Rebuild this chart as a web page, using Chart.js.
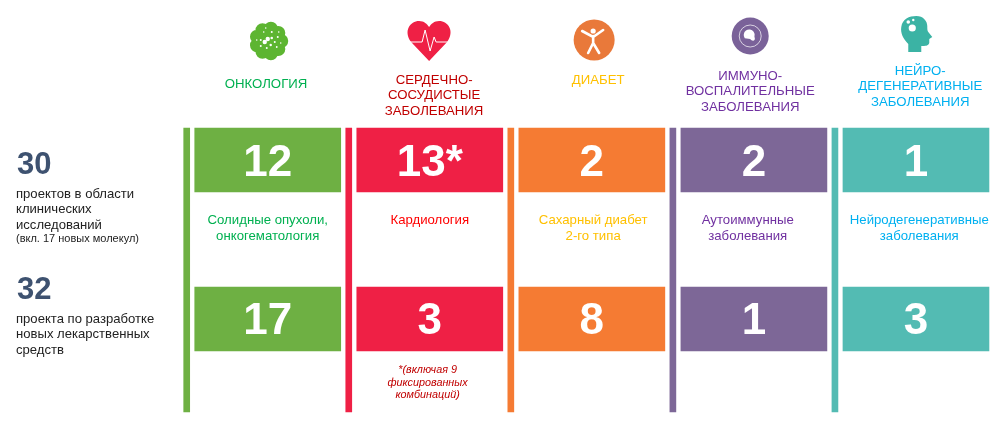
<!DOCTYPE html>
<html>
<head>
	<meta charset="utf-8">
	<script src="https://cdn.jsdelivr.net/npm/chart.js@4"></script>
	<style>
		html, body { margin: 0; padding: 0; background: #fff; }
		#wrap { width: 1000px; height: 426px; }
	</style>
</head>
<body>
	<div id="wrap"><canvas id="myChart" width="1000" height="426"></canvas></div>
</body>
<script>

// data
const categories = [
  ['ОНКОЛОГИЯ'],
  ['СЕРДЕЧНО-', 'СОСУДИСТЫЕ', 'ЗАБОЛЕВАНИЯ'],
  ['ДИАБЕТ'],
  ['ИММУНО-', 'ВОСПАЛИТЕЛЬНЫЕ', 'ЗАБОЛЕВАНИЯ'],
  ['НЕЙРО-', 'ДЕГЕНЕРАТИВНЫЕ', 'ЗАБОЛЕВАНИЯ']
];
const clinicalProjects = [12, 13, 2, 2, 1];
const discoveryProjects = [17, 3, 8, 1, 3];
const clinicalLabels = ['12', '13*', '2', '2', '1'];
const captions = [
  ['Солидные опухоли,', 'онкогематология'],
  ['Кардиология'],
  ['Сахарный диабет', '2-го типа'],
  ['Аутоиммунные', 'заболевания'],
  ['Нейродегенеративные', 'заболевания']
];
const footnote = ['*(включая 9', 'фиксированных', 'комбинаций)'];

// colours
const barColors = ['#6EB043', '#EF2045', '#F57B33', '#7D6797', '#53BBB3'];
const headColors = ['#00B050', '#C00000', '#FFC000', '#7030A0', '#00B0F0'];
const capColors = ['#00B050', '#FF0000', '#FFC000', '#7030A0', '#00B0F0'];

// the bars are all the same height, the count is only written on them
const railBand = [0, 284];
const topBand = [0, 64];
const bottomBand = [159, 223];

const columns = categories.map((c, i) => i);

const config = {
  type: 'bar',
  data: {
    datasets: [
      {
        label: 'rail',
        data: columns.map(i => ({ x: i - 0.5, y: railBand })),
        backgroundColor: barColors,
        barThickness: 6,
        grouped: false,
        clip: false
      },
      {
        label: 'Клинические исследования',
        data: columns.map(i => ({ x: i, y: topBand })),
        backgroundColor: barColors,
        barThickness: 146,
        grouped: false,
        clip: false
      },
      {
        label: 'Разработка лекарственных средств',
        data: columns.map(i => ({ x: i, y: bottomBand })),
        backgroundColor: barColors,
        barThickness: 146,
        grouped: false,
        clip: false
      }
    ]
  },
  options: {
    responsive: false,
    animation: false,
    layout: { padding: { left: 170.5, right: 3, top: 128, bottom: 14 } },
    plugins: { legend: { display: false }, tooltip: { enabled: false } },
    scales: {
      x: { type: 'linear', min: -0.6, max: 4.5, offset: false, display: false },
      y: { type: 'linear', min: 0, max: 284, reverse: true, display: false, stacked: false }
    }
  },
  plugins: [{
    id: 'infographic',
    afterDatasetsDraw(chart) {
      const c = chart.ctx;
      const xs = chart.scales.x;
      const ys = chart.scales.y;
      const arial = '"Liberation Sans", Arial, sans-serif';
      c.save();
      c.textBaseline = 'middle';

      // numbers on the cards
      c.textAlign = 'center';
      c.fillStyle = '#fff';
      c.font = 'bold 44px ' + arial;
      columns.forEach(i => {
        const x = xs.getPixelForValue(i);
        c.fillText(clinicalLabels[i], x, ys.getPixelForValue((topBand[0] + topBand[1]) / 2) + 3.5);
        c.fillText(String(discoveryProjects[i]), x, ys.getPixelForValue((bottomBand[0] + bottomBand[1]) / 2) + 2.5);
      });

      // column headers
      const headShift = [-1.7, 4.3, 6.3, -3.7, 4.3];
      const headY = [84, 80, 80, 76, 71];
      c.font = '13.2px ' + arial;
      categories.forEach((lines, i) => {
        c.fillStyle = headColors[i];
        lines.forEach((t, n) => c.fillText(t, xs.getPixelForValue(i) + headShift[i], headY[i] + n * 15.7));
      });

      // captions between the rows
      const capShift = [0, 0, 1.3, -6.2, 3.3];
      c.font = '13.2px ' + arial;
      captions.forEach((lines, i) => {
        c.fillStyle = capColors[i];
        lines.forEach((t, n) => c.fillText(t, xs.getPixelForValue(i) + capShift[i], 220 + n * 16));
      });

      // footnote
      c.fillStyle = '#C00000';
      c.font = 'italic 10.8px ' + arial;
      footnote.forEach((t, n) => c.fillText(t, xs.getPixelForValue(1) - 2.2, 370 + n * 12.5));

      // left side
      c.textAlign = 'left';
      c.fillStyle = '#3E5270';
      c.font = 'bold 31px ' + arial;
      c.fillText('30', 17, 165);
      c.fillText('32', 17, 290);
      c.fillStyle = '#222';
      c.font = '13.1px ' + arial;
      ['проектов в области', 'клинических', 'исследований'].forEach((t, n) => c.fillText(t, 16, 194 + n * 15.7));
      ['проекта по разработке', 'новых лекарственных', 'средств'].forEach((t, n) => c.fillText(t, 16, 319 + n * 15.5));
      c.font = '11px ' + arial;
      c.fillText('(вкл. 17 новых молекул)', 16, 239);

      drawFlower(c, xs.getPixelForValue(0) + 1, 41);
      drawHeart(c, xs.getPixelForValue(1) - 0.7, 21);
      drawFigure(c, xs.getPixelForValue(2) + 2.3, 40);
      drawImmune(c, xs.getPixelForValue(3) - 3.7, 36);
      drawHead(c, xs.getPixelForValue(4) + 1.3, 34);
      c.restore();
    }
  }]
};

function drawFlower(c, x, y) {
  c.fillStyle = '#5DB531';
  c.beginPath();
  for (let a = 0; a < 9; a++) {
    const r = a * Math.PI * 2 / 9;
    c.moveTo(x + Math.cos(r) * 12.5, y + Math.sin(r) * 12.5);
    c.arc(x + Math.cos(r) * 12.5, y + Math.sin(r) * 12.5, 7, 0, Math.PI * 2);
  }
  c.arc(x, y, 14, 0, Math.PI * 2);
  c.fill();
  c.fillStyle = '#fff';
  [[-1, -2, 2.2], [-4, 1, 2.2], [3, -3, 1.3], [2, 4, 1.2], [-8, -1, 1], [-12, -1, .8], [-8, 5, 1], [-2, 7, 1],
   [6, 1, 1], [9, -4, 1], [12, 2, .8], [8, 6, .9], [3, -9, 1], [-5, -9, .8], [-3, -13, .8], [10, -9, .8]].forEach(d => {
    c.beginPath();
    c.arc(x + d[0], y + d[1], d[2], 0, Math.PI * 2);
    c.fill();
  });
}

function drawHeart(c, x, y) {
  c.fillStyle = '#EF2045';
  c.beginPath();
  c.moveTo(x, y + 40);
  c.lineTo(x - 18, y + 21);
  c.bezierCurveTo(x - 26, y + 10, x - 19, y, x - 10, y);
  c.bezierCurveTo(x - 5, y, x - 2, y + 3, x, y + 6);
  c.bezierCurveTo(x + 2, y + 3, x + 5, y, x + 10, y);
  c.bezierCurveTo(x + 19, y, x + 26, y + 10, x + 18, y + 21);
  c.closePath();
  c.fill();
  c.strokeStyle = '#fff';
  c.lineWidth = 1;
  c.beginPath();
  c.moveTo(x - 21, y + 21);
  c.lineTo(x - 7, y + 21);
  c.lineTo(x - 4, y + 9);
  c.lineTo(x + 1, y + 30);
  c.lineTo(x + 5, y + 16);
  c.lineTo(x + 7, y + 21);
  c.lineTo(x + 21, y + 21);
  c.stroke();
}

function drawFigure(c, x, y) {
  c.fillStyle = '#E9793A';
  c.beginPath();
  c.arc(x, y, 20.5, 0, Math.PI * 2);
  c.fill();
  c.strokeStyle = '#fff';
  c.fillStyle = '#fff';
  c.lineWidth = 2.6;
  c.lineCap = 'round';
  c.beginPath();
  c.arc(x - 1, y - 9, 2.6, 0, Math.PI * 2);
  c.fill();
  c.beginPath();
  c.moveTo(x - 12, y - 9);
  c.lineTo(x - 1, y - 3);
  c.lineTo(x + 9, y - 10);
  c.moveTo(x - 1, y - 4);
  c.lineTo(x - 1, y + 3);
  c.lineTo(x - 6, y + 13);
  c.moveTo(x - 1, y + 3);
  c.lineTo(x + 5, y + 13);
  c.stroke();
  c.lineCap = 'butt';
}

function drawImmune(c, x, y) {
  c.fillStyle = '#7A6299';
  c.beginPath();
  c.arc(x, y, 18.5, 0, Math.PI * 2);
  c.fill();
  c.strokeStyle = 'rgba(255,255,255,.7)';
  c.lineWidth = 1;
  c.beginPath();
  c.arc(x, y, 11, 0, Math.PI * 2);
  c.stroke();
  c.fillStyle = '#fff';
  c.beginPath();
  c.arc(x - 1, y - 1, 5.5, Math.PI * 0.8, Math.PI * 2.1);
  c.bezierCurveTo(x + 6, y + 5, x + 2, y + 6, x, y + 3);
  c.closePath();
  c.fill();
}

function drawHead(c, x, y) {
  c.fillStyle = '#3BB3A4';
  c.beginPath();
  c.moveTo(x - 9, y + 18);
  c.lineTo(x - 9, y + 10);
  c.bezierCurveTo(x - 14, y + 5, x - 17, y - 1, x - 16, y - 7);
  c.bezierCurveTo(x - 15, y - 15, x - 8, y - 18, x - 1, y - 18);
  c.bezierCurveTo(x + 6, y - 18, x + 10, y - 13, x + 10, y - 8);
  c.bezierCurveTo(x + 10, y - 5, x + 10, y - 3, x + 11, y - 2);
  c.lineTo(x + 15, y + 3);
  c.lineTo(x + 12, y + 5);
  c.lineTo(x + 12, y + 9);
  c.bezierCurveTo(x + 11, y + 12, x + 8, y + 12, x + 4, y + 12);
  c.lineTo(x + 4, y + 18);
  c.closePath();
  c.fill();
  c.fillStyle = '#fff';
  [[-5, -6, 3.6], [-9, -12, 1.8], [-4, -14, 1.2]].forEach(d => {
    c.beginPath();
    c.arc(x + d[0], y + d[1], d[2], 0, Math.PI * 2);
    c.fill();
  });
}

var ctx = document.getElementById('myChart');
var myChart = new Chart(ctx, config);

</script>
</html>
